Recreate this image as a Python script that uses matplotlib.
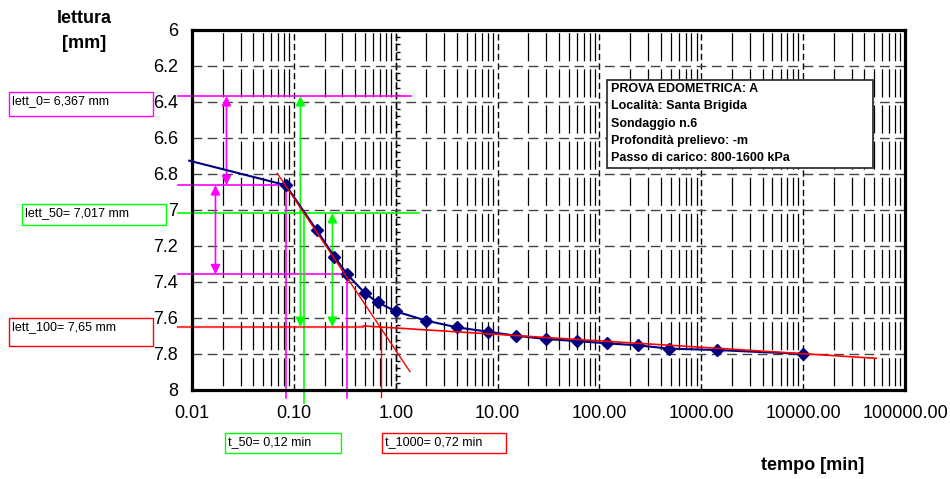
import numpy as np
import matplotlib
matplotlib.use("Agg")
import matplotlib.pyplot as plt  # noqa: E402
from matplotlib.patches import Rectangle  # noqa: E402
from matplotlib.ticker import FixedLocator, FuncFormatter, LogLocator, MultipleLocator, NullFormatter  # noqa: E402

plt.rcParams["font.family"] = ["Liberation Sans", "DejaVu Sans"]
plt.rcParams["lines.scale_dashes"] = False

# ---------------------------------------------------------------------------
# Data: consolidation readings (time [min], dial reading [mm])
# ---------------------------------------------------------------------------
tempo = [0.0833, 0.167, 0.25, 0.333, 0.5, 0.667, 1, 2, 4, 8, 15, 30,
         60, 120, 240, 480, 1440, 10000]
lettura = [6.862, 7.111, 7.259, 7.357, 7.463, 7.513, 7.563, 7.615, 7.652,
           7.676, 7.698, 7.717, 7.728, 7.741, 7.752, 7.770, 7.778, 7.800]
curve_start_t = 0.0094
curve_start_y = 6.726

# Casagrande construction
t1, t2 = 0.0833, 0.333
lett_t1, lett_t2 = 6.862, 7.357
lett_0 = 6.367
lett_50 = 7.017
lett_100 = 7.65
t_50 = 0.126
t_100 = 0.72
tangent_t = [0.0687, 1.38]
tangent_y = [6.796, 7.898]
secondary_t = [0.48, 52000]
secondary_y = [7.644, 7.824]

# construction line extents (outside the plot area)
x_left = 0.00735
lett0_right = 1.40
lett50_right = 1.68
y_low_mag = 8.044
y_low_green = 8.072
y_low_red = 8.039
arrow_mag_a = 0.0218
arrow_mag_b = 0.017
arrow_green_a = 0.116
arrow_green_b = 0.239

x_ticks = [0.01, 0.1, 1, 10, 100, 1000, 10000, 100000]
y_ticks = [6, 6.2, 6.4, 6.6, 6.8, 7, 7.2, 7.4, 7.6, 7.8, 8]

info_lines = [
    "PROVA EDOMETRICA: A",
    "Località: Santa Brigida",
    "Sondaggio n.6",
    "Profondità prelievo: -m",
    "Passo di carico: 800-1600 kPa",
]

MAGENTA = "#ff00ff"
GREEN = "#00ff00"
RED = "#ff0000"
NAVY = "#000080"

W, H = 950, 479


def _fx(px):
    return px / W


def _fy(py):
    return 1 - py / H


def _label_box(fig, x0, y0, x1, y1, color, text, tx, ty):
    fig.add_artist(Rectangle((_fx(x0), _fy(y1)), _fx(x1 - x0), (y1 - y0) / H,
                             transform=fig.transFigure, fill=False,
                             edgecolor=color, lw=1.0))
    fig.text(_fx(tx), _fy(ty), text, fontsize=9, ha="left", va="center")


fig = plt.figure(figsize=(W / 100, H / 100), dpi=100)
ax = fig.add_axes([_fx(192), _fy(390), (905 - 192) / W, 360 / H])

ax.set_xscale("log")
ax.set_xlim(x_ticks[0], x_ticks[-1])
ax.set_ylim(y_ticks[-1], y_ticks[0])

ax.xaxis.set_major_locator(FixedLocator(x_ticks))
ax.xaxis.set_major_formatter(FuncFormatter(lambda v, p: f"{v:.2f}"))
ax.xaxis.set_minor_locator(LogLocator(base=10, subs=range(2, 10), numticks=20))
ax.xaxis.set_minor_formatter(NullFormatter())
ax.yaxis.set_major_locator(FixedLocator(y_ticks))
ax.yaxis.set_major_formatter(FuncFormatter(lambda v, p: f"{v:g}"))

ax.tick_params(which="both", length=0, labelsize=13)
ax.tick_params(axis="x", pad=11)
ax.tick_params(axis="y", pad=10)

# grid
ax.grid(axis="y", which="major", color="#444444", lw=1.0, ls=(0, (7, 4)))
ax.grid(axis="x", which="major", color="black", lw=1.0, ls=(0, (4.5, 2.5)))
ax.grid(axis="x", which="minor", color="black", lw=0.9, ls=(23.0, (20.2, 5.8)))
ax.set_axisbelow(True)

for sp in ax.spines.values():
    sp.set_linewidth(2.3)
    sp.set_color("black")

# secondary value axis crossing at t = 1 (dashed, with minor ticks)
sec = ax.secondary_yaxis(location=2 / 7)
sec.yaxis.set_major_locator(FixedLocator(y_ticks))
sec.yaxis.set_minor_locator(MultipleLocator(0.04))
sec.tick_params(which="both", direction="out", length=3, width=1,
                labelright=False, labelleft=False, right=True, left=False)
for sp in sec.spines.values():
    sp.set_linestyle((0, (4.5, 2.5)))
    sp.set_linewidth(1.0)

# construction lines
ax.plot([x_left, lett0_right], [lett_0, lett_0], color=MAGENTA, lw=1.2, clip_on=False)
ax.plot([x_left, t1], [lett_t1, lett_t1], color=MAGENTA, lw=1.2, clip_on=False)
ax.plot([x_left, t2], [lett_t2, lett_t2], color=MAGENTA, lw=1.2, clip_on=False)
ax.plot([t1, t1], [lett_t1, y_low_mag], color=MAGENTA, lw=1.2, clip_on=False)
ax.plot([t2, t2], [lett_t2, y_low_mag], color=MAGENTA, lw=1.2, clip_on=False)

ax.plot([x_left, lett50_right], [lett_50, lett_50], color=GREEN, lw=1.2, clip_on=False)
ax.plot([t_50, t_50], [lett_50, y_low_green], color=GREEN, lw=1.2, clip_on=False)

ax.plot([x_left, secondary_t[0]], [lett_100, lett_100], color=RED, lw=1.6,
        alpha=0.75, clip_on=False)
ax.plot([t_100, t_100], [lett_100, y_low_red], color=RED, lw=1.0, clip_on=False)
ax.plot(tangent_t, tangent_y, color=RED, lw=1.0, zorder=4)
ax.plot(secondary_t, secondary_y, color=RED, lw=1.2, zorder=4, clip_on=False)


def _arrow(x, ya, yb, color):
    ax.annotate("", xy=(x, ya), xytext=(x, yb),
                arrowprops=dict(arrowstyle="<|-|>", color=color, lw=1.2,
                                mutation_scale=14, shrinkA=0, shrinkB=0))


_arrow(arrow_mag_a, lett_0, lett_t1, MAGENTA)
_arrow(arrow_mag_b, lett_t1, lett_t2, MAGENTA)
_arrow(arrow_green_a, lett_0, lett_100, GREEN)
_arrow(arrow_green_b, lett_50, lett_100, GREEN)

# measured curve
ax.plot([curve_start_t] + tempo, [curve_start_y] + lettura, color=NAVY, lw=1.5,
        marker="D", markersize=6, markevery=list(range(1, len(tempo) + 1)),
        zorder=3, clip_on=False)

# info box
fig.add_artist(Rectangle((_fx(607), _fy(168)), _fx(873 - 607), (168 - 80) / H,
                         transform=fig.transFigure, facecolor="white",
                         edgecolor="#333333", lw=1.3, zorder=5))
for i, line in enumerate(info_lines):
    fig.text(_fx(611), _fy(89 + i * 17.3), line, fontsize=9, fontweight="bold",
             ha="left", va="center", zorder=6)

# value boxes
_label_box(fig, 9, 92, 153, 116, MAGENTA, "lett_0= 6,367 mm", 12, 101)
_label_box(fig, 22, 204, 166, 225, GREEN, "lett_50= 7,017 mm", 25, 213)
_label_box(fig, 9, 318, 153, 346, RED, "lett_100= 7,65 mm", 12, 327)
_label_box(fig, 225, 433, 341, 453, GREEN, "t_50= 0,12 min", 228, 442)
_label_box(fig, 382, 433, 506, 453, RED, "t_1000= 0,72 min", 385, 442)

# axis titles
fig.text(_fx(84), _fy(31), "lettura\n[mm]", fontsize=13, fontweight="bold",
         ha="center", va="center", linespacing=1.55)
fig.text(_fx(813), _fy(466), "tempo [min]", fontsize=13, fontweight="bold",
         ha="center", va="center")

fig.savefig("out.png", dpi=100)
